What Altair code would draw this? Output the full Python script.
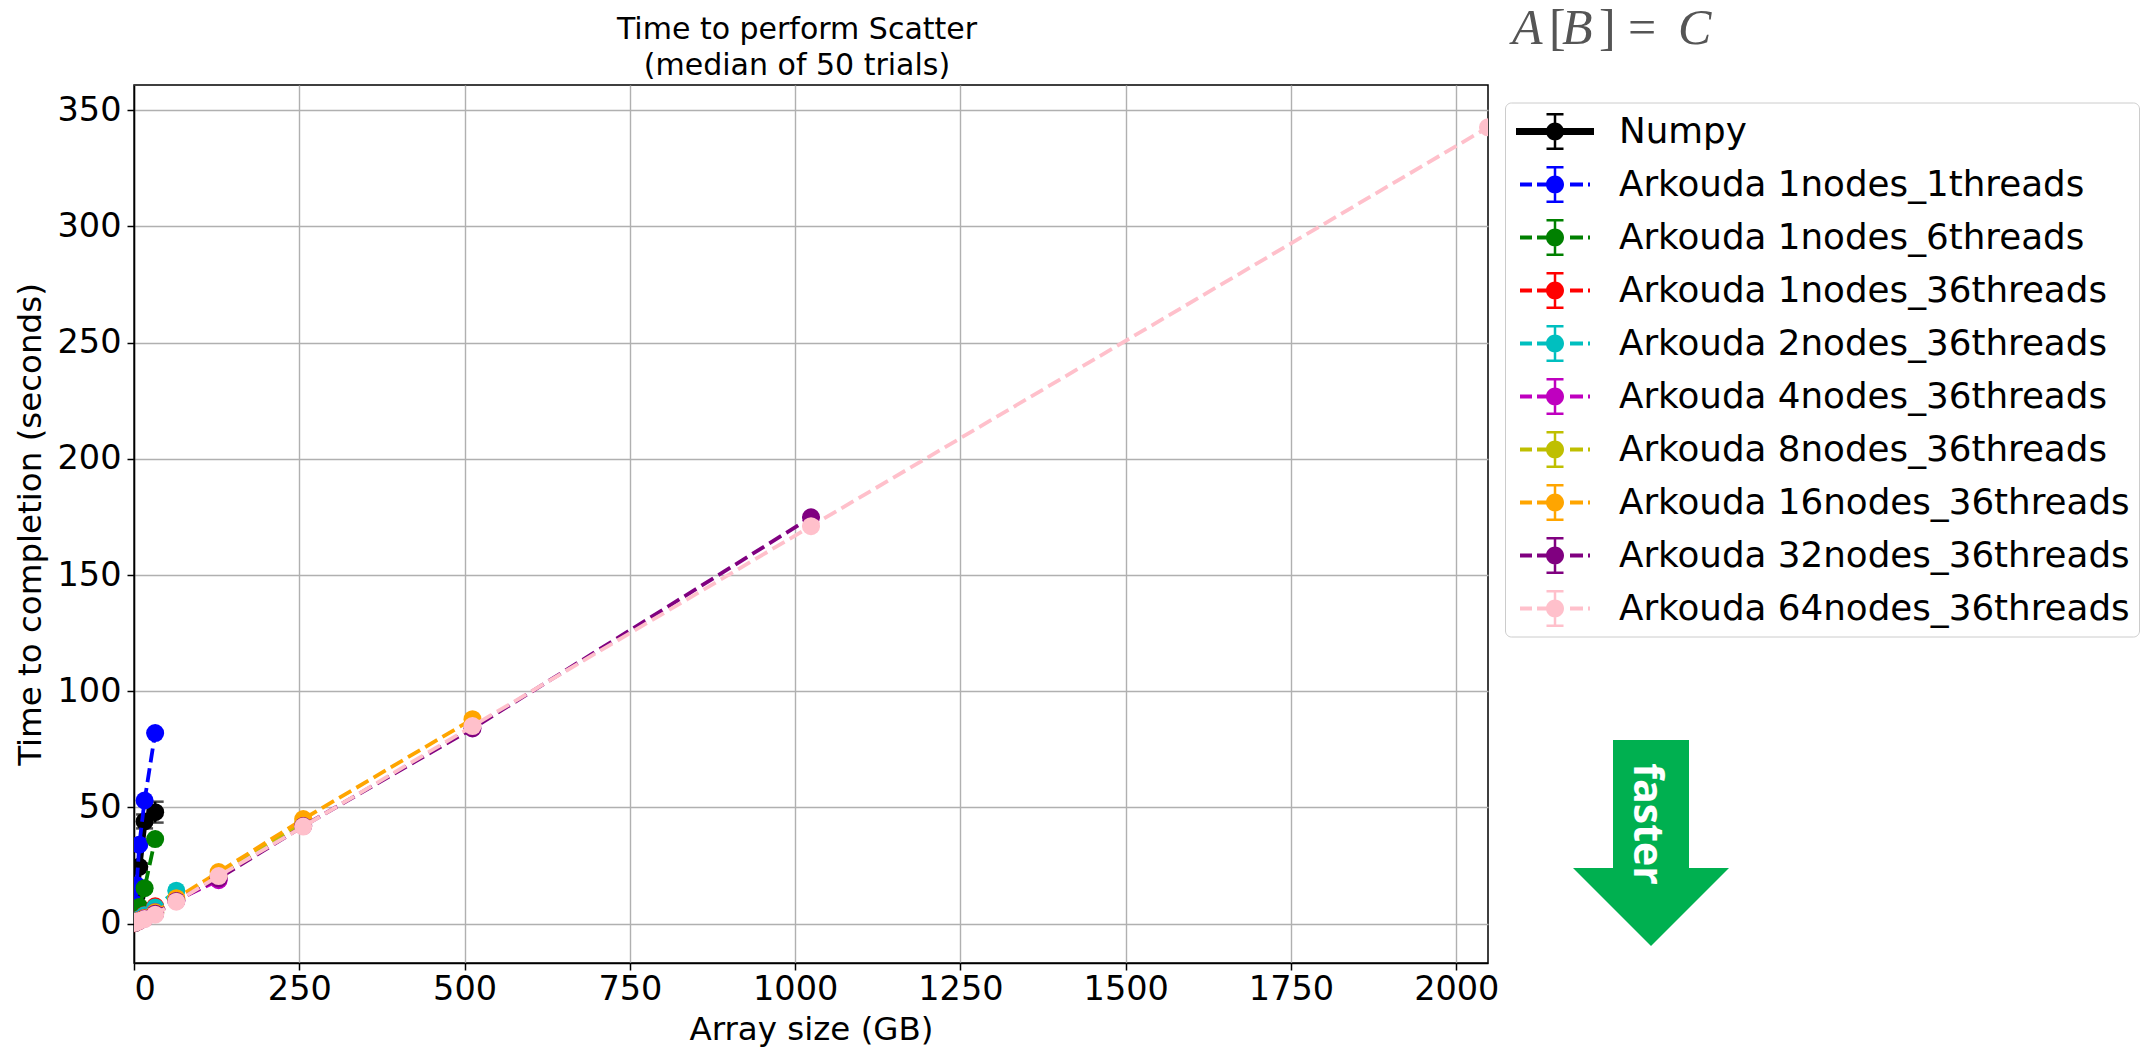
import altair as alt
import pandas as pd

SIZES = [0.25, 0.5, 1, 2, 4, 8, 16, 32, 64, 128, 256, 512, 1024, 2048]
SERIES = ["Numpy", "Arkouda 1nodes_1threads", "Arkouda 1nodes_6threads", "Arkouda 1nodes_36threads",
          "Arkouda 2nodes_36threads", "Arkouda 4nodes_36threads", "Arkouda 8nodes_36threads",
          "Arkouda 16nodes_36threads", "Arkouda 32nodes_36threads", "Arkouda 64nodes_36threads"]
COLORS = ["black", "blue", "green", "red", "#00bfbf", "#bf00bf", "#bfbf00", "orange", "purple", "pink"]
# index into SIZES just past each series' largest array size
STOPS = [8, 8, 8, 8, 9, 10, 11, 12, 13, 14]

NUMPY = [0.8, 1.5, 3.0, 6.0, 12.0, 24.5, 44.0, 48.0]
NUMPY_ERR = [0.1, 0.1, 0.2, 0.4, 0.8, 1.5, 3.0, 4.5]
A1_1 = [1.0, 2.1, 4.2, 8.5, 16.5, 34.0, 53.0, 82.0]
A1_6 = [0.3, 0.5, 0.9, 1.8, 3.6, 7.2, 15.3, 36.4]
A1_36 = [0.2, 0.3, 0.5, 1.0, 2.0, 3.8, 7.5]
A2_36 = [0.3, 0.4, 0.6, 1.0, 1.9, 3.6, 7.0, 14.2]
A4_36 = [0.4, 0.5, 0.7, 0.9, 1.4, 2.6, 5.0, 10.0, 18.7]
A8_36 = [0.5, 0.6, 0.7, 0.9, 1.3, 2.5, 4.9, 10.5, 21.0, 43.5]
A16_36 = [0.5, 0.6, 0.7, 0.9, 1.3, 2.4, 4.6, 11.0, 22.2, 45.0, 88.0]
A32_36 = [0.5, 0.6, 0.7, 0.8, 1.2, 2.2, 4.3, 9.8, 19.5, 42.0, 84.0, 174.8]
A64_36 = [0.4, 0.6, 0.7, 0.8, 1.2, 2.0, 3.9, 9.5, 20.5, 41.8, 85.0, 171.0, 342.6]
VALUES = [NUMPY, A1_1, A1_6, A1_36, A2_36, A4_36, A8_36, A16_36, A32_36, A64_36]

XTICKS = [0, 250, 500, 750, 1000, 1250, 1500, 1750, 2000]
YTICKS = [0, 50, 100, 150, 200, 250, 300, 350]
FORMULA = [("A", "italic", 0), ("[", "normal", 37), ("B", "italic", 50), ("]", "normal", 87),
           ("=", "normal", 116), ("C", "italic", 166)]


def rect(x0, x1, y0, y1):
    return f"M{x0},{y0}L{x1},{y0}L{x1},{y1}L{x0},{y1}Z"


U = 20.0
BARS = (rect(-1.25 / U, 1.25 / U, -18.5 / U, 18.5 / U)
        + rect(-8.5 / U, 8.5 / U, -18.5 / U, -16 / U)
        + rect(-8.5 / U, 8.5 / U, 16 / U, 18.5 / U))
DOT = f"M{-9 / U},0A{9 / U},{9 / U},0,1,1,{9 / U},0A{9 / U},{9 / U},0,1,1,{-9 / U},0Z"
DASHES = "".join(rect(a / U, b / U, -2 / U, 2 / U)
                 for a, b in [(-35, -23), (-18, -8), (15, 28), (33, 35)])
SHAPE_NUMPY = rect(-39 / U, 39 / U, -3.4 / U, 3.4 / U) + BARS + DOT
SHAPE_OTHER = DASHES + BARS + DOT
SHAPES = [SHAPE_NUMPY] + [SHAPE_OTHER] * 9

x_scale = alt.Scale(domain=[0, 2048], nice=False, zero=False)
y_scale = alt.Scale(domain=[-16.9, 360.8], nice=False, zero=False)
FONT = "DejaVu Sans"

layers = []
for name, vals, col, stop in zip(SERIES, VALUES, COLORS, STOPS):
    xs = SIZES[stop - len(vals):stop]
    errs = NUMPY_ERR if name == "Numpy" else [0.0] * len(vals)
    d = pd.DataFrame({"x": xs, "y": vals, "lo": [v - e for v, e in zip(vals, errs)],
                      "hi": [v + e for v, e in zip(vals, errs)], "series": name})
    X = alt.X("x:Q", scale=x_scale, title="Array size (GB)",
              axis=alt.Axis(values=XTICKS, format="d", labelFontSize=33.5, titleFontSize=32.5,
                            titlePadding=8, labelPadding=3))
    Y = alt.Y("y:Q", scale=y_scale, title="Time to completion (seconds)",
              axis=alt.Axis(values=YTICKS, format="d", labelFontSize=33.5, titleFontSize=32.5,
                            titlePadding=10, labelPadding=6))
    base = alt.Chart(d)
    lw = 6 if name == "Numpy" else 3.8
    line_kw = {} if name == "Numpy" else {"strokeDash": [14, 6]}
    layers.append(base.mark_line(color=col, strokeWidth=lw, clip=True, **line_kw).encode(x=X, y=Y))
    layers.append(base.mark_rule(color=col, strokeWidth=2.5, clip=True).encode(
        x=alt.X("x:Q", scale=x_scale), y=alt.Y("lo:Q", scale=y_scale), y2="hi:Q"))
    for f in ("lo", "hi"):
        layers.append(base.mark_tick(color=col, orient="horizontal", size=17, thickness=2.5, clip=True).encode(
            x=alt.X("x:Q", scale=x_scale), y=alt.Y(f"{f}:Q", scale=y_scale)))
    layers.append(base.mark_circle(color=col, size=324, opacity=1, clip=True).encode(
        x=alt.X("x:Q", scale=x_scale), y=alt.Y("y:Q", scale=y_scale)))

# native legend carrier
leg = pd.DataFrame({"series": SERIES, "x": [0] * 10, "y": [0] * 10})
layers.append(alt.Chart(leg).mark_point(filled=True, size=0, opacity=1).encode(
    x=alt.X("x:Q", scale=x_scale), y=alt.Y("y:Q", scale=y_scale),
    color=alt.Color("series:N", sort=None, scale=alt.Scale(domain=SERIES, range=COLORS),
                    legend=alt.Legend(orient="none", legendX=1371, legendY=17.5, title=None,
                                      symbolSize=1600, symbolOpacity=1, symbolStrokeWidth=0, symbolOffset=21,
                                      labelFontSize=35.7, labelFont=FONT, labelLimit=800, labelColor="black",
                                      rowPadding=14, labelOffset=44, fillColor="white", strokeColor="#cccccc",
                                      cornerRadius=6, padding=9)),
    shape=alt.Shape("series:N", sort=None, scale=alt.Scale(domain=SERIES, range=SHAPES))))

# arrow annotation
ARROW = "M-38,-103L38,-103L38,25L78,25L0,103L-78,25L-38,25Z"
layers.append(alt.Chart(pd.DataFrame({"a": [0]})).mark_point(
    shape=ARROW, size=4, filled=True, fill="#00B050", opacity=1, strokeWidth=0, clip=False
).encode(x=alt.value(1517), y=alt.value(758)))
layers.append(alt.Chart(pd.DataFrame({"t": ["faster"]})).mark_text(
    angle=90, font="Open Sans", fontWeight="bold", fontSize=41, color="white", align="center", baseline="middle"
).encode(x=alt.value(1512), y=alt.value(739), text="t:N"))
for txt, style, dx in FORMULA:
    layers.append(alt.Chart(pd.DataFrame({"t": [txt]})).mark_text(
        font="Liberation Serif", fontStyle=style, fontSize=50, color="#555555", align="left", baseline="alphabetic"
    ).encode(x=alt.value(1378 + dx), y=alt.value(-41.5), text="t:N"))

chart = alt.layer(*layers).resolve_scale(x="shared", y="shared").properties(
    width=1354, height=878,
    title=alt.TitleParams(["Time to perform Scatter", "(median of 50 trials)"], fontSize=30, font=FONT,
                          fontWeight="normal", lineHeight=36, offset=-77, dx=-14, color="black"),
    padding={"left": 6, "top": -5, "right": 0, "bottom": 6},
).configure_axis(
    labelFont=FONT, titleFont=FONT, titleFontWeight="normal", labelColor="black", titleColor="black",
    grid=True, gridColor="#b0b0b0", gridWidth=1.4, domainColor="black", domainWidth=1.5,
    tickColor="black", tickSize=7, tickWidth=1.5,
).configure_view(stroke="black", strokeWidth=1.5)

chart.save("out.html", embed_options={"renderer": "svg", "actions": False})
